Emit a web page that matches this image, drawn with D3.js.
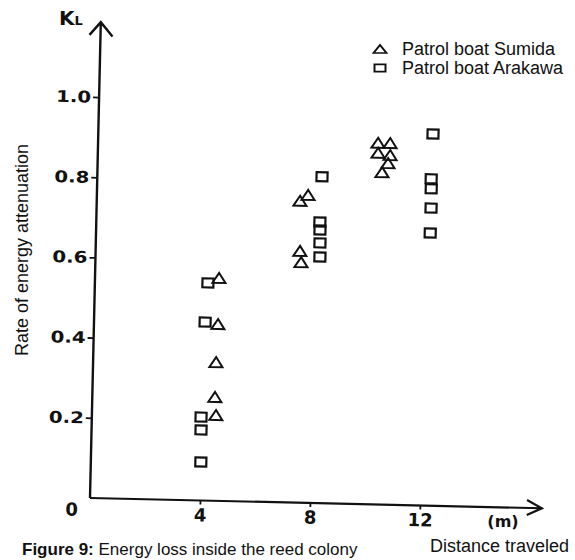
<!DOCTYPE html>
<html>
<head>
<meta charset="utf-8">
<script src="https://cdn.jsdelivr.net/npm/d3@7"></script>
<style>
  body { margin: 0; background: #fff; }
  svg { display: block; }
</style>
</head>
<body>
<div class="chart"></div>
<script>
// Values
const sumidaX = [4.51, 4.51, 4.47, 4.46, 4.51, 7.68, 7.39, 7.43, 7.48, 10.18, 10.62, 10.19, 10.63, 10.56, 10.35]
const sumidaY = [0.556, 0.441, 0.346, 0.259, 0.214, 0.768, 0.753, 0.628, 0.600, 0.902, 0.902, 0.877, 0.872, 0.852, 0.829]
const arakawaX = [4.11, 4.04, 3.97, 3.98, 4.00, 8.17, 8.13, 8.14, 8.15, 8.16, 12.17, 12.14, 12.15, 12.16, 12.15]
const arakawaY = [0.543, 0.445, 0.208, 0.176, 0.096, 0.814, 0.701, 0.681, 0.649, 0.614, 0.927, 0.815, 0.790, 0.742, 0.680]
const xTicks = [4, 8, 12]
const yTicks = [0.2, 0.4, 0.6, 0.8, 1.0]
const legendLabels = ['Patrol boat Sumida', 'Patrol boat Arakawa']

const width = 575
const height = 560
const ink = '#111'

const svg = d3.select('.chart')
    .append('svg')
    .attr('width', width)
    .attr('height', height)

// scales (the scanned figure sits slightly rotated, so the plot group is too)
const xScale = d3.scaleLinear().domain([0, 16]).range([0, 440])
const yScale = d3.scaleLinear().domain([0, 1]).range([0, -401])

const plot = svg.append('g')
    .attr('transform', 'translate(90,498) rotate(1.3)')

// marker shapes
const triPath = 'M0,-5L6.5,5L-6.5,5Z'
const sqPath = 'M-5.5,-4.5H5.5V4.5H-5.5Z'

// axes
const yAxis = d3.axisLeft(yScale)
    .tickValues(yTicks)
    .tickSize(6)
    .tickPadding(2)
    .tickFormat(d3.format('.1f'))

const xAxis = d3.axisBottom(xScale)
    .tickValues(xTicks)
    .tickSize(4)
    .tickPadding(4)

const gy = plot.append('g').call(yAxis)
const gx = plot.append('g').call(xAxis)

gy.select('.domain').remove()
gx.select('.domain').remove()

gy.selectAll('line').attr('stroke', ink).attr('stroke-width', 1.8)
gx.selectAll('line').attr('stroke', ink).attr('stroke-width', 1.8)

gy.selectAll('text')
    .attr('font-family', 'DejaVu Sans')
    .attr('font-weight', 'bold')
    .attr('font-size', 16)
    .attr('fill', ink)
    .attr('textLength', 35)
    .attr('lengthAdjust', 'spacingAndGlyphs')

gx.selectAll('text')
    .attr('font-family', 'DejaVu Sans')
    .attr('font-weight', 'bold')
    .attr('font-size', 18)
    .attr('fill', ink)

// axis lines with open arrow heads
plot.append('path')
    .attr('d', 'M0,0V-476M-11,-463L0,-476L12,-462')
    .attr('fill', 'none')
    .attr('stroke', ink)
    .attr('stroke-width', 2.4)

plot.append('path')
    .attr('d', 'M0,0H452M437,-8L452,0L437,7')
    .attr('fill', 'none')
    .attr('stroke', ink)
    .attr('stroke-width', 2.2)

plot.append('text')
    .text('0')
    .attr('x', -18)
    .attr('y', 18)
    .attr('text-anchor', 'middle')
    .attr('font-family', 'DejaVu Sans')
    .attr('font-weight', 'bold')
    .attr('font-size', 18)
    .attr('fill', ink)

// points
plot.append('g')
    .selectAll('path')
    .data(d3.range(sumidaX.length))
    .enter()
    .append('path')
    .attr('d', triPath)
    .attr('transform', i => `translate(${xScale(sumidaX[i])},${yScale(sumidaY[i])})`)
    .attr('fill', 'none')
    .attr('stroke', ink)
    .attr('stroke-width', 2)

plot.append('g')
    .selectAll('path')
    .data(d3.range(arakawaX.length))
    .enter()
    .append('path')
    .attr('d', sqPath)
    .attr('transform', i => `translate(${xScale(arakawaX[i])},${yScale(arakawaY[i])})`)
    .attr('fill', 'none')
    .attr('stroke', ink)
    .attr('stroke-width', 2.2)

// KL label
const kl = svg.append('text')
    .attr('x', 59)
    .attr('y', 25)
    .attr('font-family', 'DejaVu Sans')
    .attr('font-weight', 'bold')
    .attr('fill', ink)
kl.append('tspan').text('K').attr('font-size', 20)
kl.append('tspan').text('L').attr('font-size', 13)

// y title
svg.append('text')
    .text('Rate of energy attenuation')
    .attr('transform', 'translate(28,250) rotate(-90)')
    .attr('text-anchor', 'middle')
    .attr('font-family', 'Liberation Sans')
    .attr('font-size', 18)
    .attr('fill', ink)

// x unit and title
svg.append('text')
    .text('(m)')
    .attr('x', 503)
    .attr('y', 527)
    .attr('text-anchor', 'middle')
    .attr('font-family', 'DejaVu Sans')
    .attr('font-weight', 'bold')
    .attr('font-size', 16)
    .attr('fill', ink)

svg.append('text')
    .text('Distance traveled')
    .attr('x', 569)
    .attr('y', 552)
    .attr('text-anchor', 'end')
    .attr('font-family', 'Liberation Sans')
    .attr('font-size', 18)
    .attr('fill', ink)

// legend
const legend = svg.append('g').attr('id', 'legend')
legendLabels.forEach((label, i) => {
    legend.append('path')
        .attr('d', i === 0 ? triPath : sqPath)
        .attr('transform', `translate(380,${49 + i * 19}) scale(1,0.8)`)
        .attr('fill', 'none')
        .attr('stroke', ink)
        .attr('stroke-width', 2)
    legend.append('text')
        .text(label)
        .attr('x', 402)
        .attr('y', 55 + i * 19)
        .attr('font-family', 'Liberation Sans')
        .attr('font-size', 18)
        .attr('fill', ink)
})

// caption
const caption = svg.append('text')
    .attr('x', 22)
    .attr('y', 555)
    .attr('font-family', 'Liberation Sans')
    .attr('font-size', 17)
    .attr('fill', ink)
caption.append('tspan').text('Figure 9:').attr('font-weight', 'bold')
caption.append('tspan').text(' Energy loss inside the reed colony')
</script>
</body>
</html>
